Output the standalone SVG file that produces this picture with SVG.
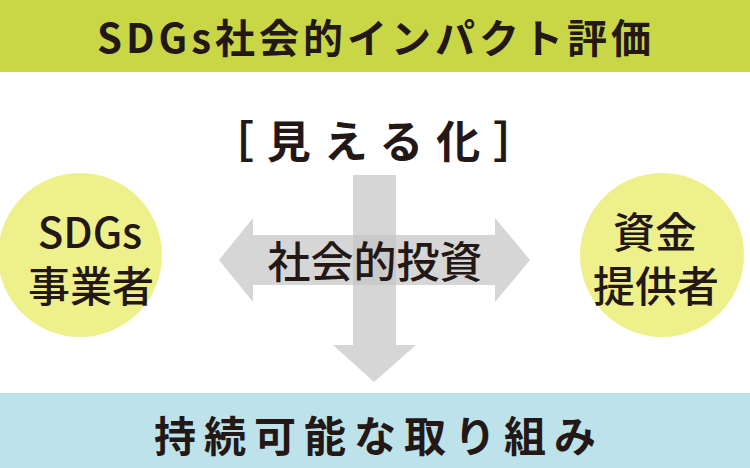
<svg xmlns="http://www.w3.org/2000/svg" width="750" height="468" viewBox="0 0 750 468">
<style>
text{font-family:"Noto Sans CJK JP","Noto Sans",sans-serif;font-weight:bold;fill:#231815;text-anchor:middle}
.c{font-size:42px;font-weight:500}
.a{fill:#c4c4c4;fill-opacity:0.7}
</style>
<rect width="750" height="468" fill="#fff"/>
<g id="title"><rect x="0" y="0" width="750" height="72" fill="#c9d746"/><text x="376" y="53" style="font-size:40px;letter-spacing:4px">SDGs社会的インパクト評価</text></g>
<g id="mieru"><text x="380" y="158" style="font-size:44px;letter-spacing:13px">［見える化］</text></g>
<g id="connectors">
<polygon class="a" points="353,175 396,175 396,345 416,345 374,382 333,345 353,345"/>
<polygon class="a" points="219,260 253,218 253,235 495,235 495,218 530,260 495,302 495,285 253,285 253,302"/>
</g>
<g id="invest"><text x="375" y="278" style="font-size:43px;font-weight:500">社会的投資</text></g>
<g id="left"><circle cx="80" cy="255" r="82" fill="#eef08c"/><text class="c" x="90" y="248">SDGs</text><text class="c" x="91" y="302">事業者</text></g>
<g id="right"><circle cx="662" cy="255" r="82" fill="#eef08c"/><text class="c" x="655" y="248">資金</text><text class="c" x="656" y="302">提供者</text></g>
<g id="bottom"><rect x="0" y="393" width="750" height="75" fill="#bde2ea"/><text x="379" y="452" style="font-size:42px;letter-spacing:8px">持続可能な取り組み</text></g>
</svg>
